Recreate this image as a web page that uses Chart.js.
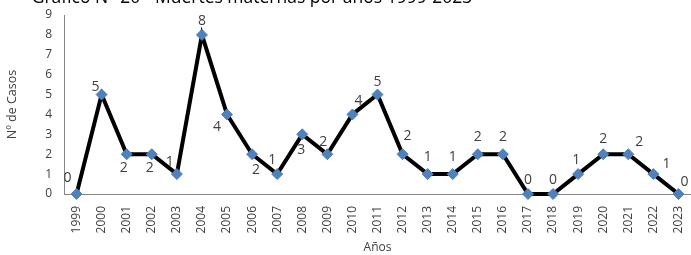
<!DOCTYPE html>
<html>
<head>
<meta charset="utf-8">
<script src="https://cdn.jsdelivr.net/npm/chart.js@4/dist/chart.umd.min.js"></script>
<style>
  html, body { margin: 0; padding: 0; background: #fff; }
  #wrap { width: 691px; height: 255px; }
</style>
</head>
<body>
<div id="wrap"><canvas id="deathsChart" width="691" height="255"></canvas></div>
<script>
// data
const years = ['1999', '2000', '2001', '2002', '2003', '2004', '2005', '2006', '2007', '2008',
    '2009', '2010', '2011', '2012', '2013', '2014', '2015', '2016', '2017', '2018',
    '2019', '2020', '2021', '2022', '2023'];
const deaths = [0, 5, 2, 2, 1, 8, 4, 2, 1, 3, 2, 4, 5, 2, 1, 1, 2, 2, 0, 0, 1, 2, 2, 1, 0];
const chartTitle = 'Gráfico N° 20 - Muertes maternas por años 1999-2023';
const yTitle = 'Nº de Casos';
const xTitle = 'Años';

// where each value label sits relative to its marker (dx, dy)
const labelOffsets = [
    [-9, -16], [-6, -8], [-3, 14], [-2, 14], [-7, -12], [0, -14], [-10, 13], [4, 16],
    [-5, -14], [-1, 16], [-4, -12], [6, -13], [0, -13], [5, -18], [0, -17], [0, -17],
    [0, -17], [0, -17], [0, -14], [0, -14], [-2, -14], [0, -15], [11, -12], [13, -10], [6, -12]
];

const fontFam = '"Open Sans", "Noto Sans", sans-serif';
const textColor = '#404040';

const extraText = {
    id: 'extraText',
    afterDatasetsDraw(chart) {
        const ctx = chart.ctx;
        const meta = chart.getDatasetMeta(0);
        ctx.save();
        ctx.fillStyle = textColor;
        ctx.font = '14px ' + fontFam;
        ctx.textAlign = 'center';
        ctx.textBaseline = 'middle';
        meta.data.forEach((pt, i) => {
            const off = labelOffsets[i] || [0, -14];
            ctx.fillText(String(deaths[i]), pt.x + off[0], pt.y + off[1]);
        });
        // chart title, cut off at the top like the original
        ctx.fillStyle = '#000';
        ctx.font = '17.5px ' + fontFam;
        ctx.textBaseline = 'alphabetic';
        ctx.fillText(chartTitle, 252, 3);
        ctx.restore();
    }
};

const ctxLine = document.getElementById('deathsChart').getContext('2d');
const deathsChart = new Chart(ctxLine, {
    type: 'line',
    data: {
        labels: years,
        datasets: [{
            label: 'Muertes maternas',
            data: deaths,
            borderColor: '#000000',
            borderWidth: 4,
            tension: 0,
            pointStyle: 'rectRot',
            pointRadius: 5.5,
            pointHoverRadius: 5.5,
            pointBackgroundColor: '#4F81BD',
            pointBorderColor: '#4F81BD',
            pointBorderWidth: 1,
            clip: false
        }]
    },
    options: {
        responsive: false,
        animation: false,
        layout: {
            autoPadding: false,
            padding: { top: 15, right: -4, left: 0, bottom: 0 }
        },
        plugins: {
            legend: { display: false },
            tooltip: { enabled: false },
            title: { display: false }
        },
        scales: {
            x: {
                offset: true,
                grid: { display: false, drawTicks: false },
                border: { display: true, color: '#868686', width: 1 },
                ticks: {
                    minRotation: 90,
                    maxRotation: 90,
                    autoSkip: false,
                    padding: 12,
                    color: textColor,
                    font: { family: fontFam, size: 12 }
                },
                title: {
                    display: true,
                    text: xTitle,
                    color: textColor,
                    font: { family: fontFam, size: 12 },
                    padding: { top: 0, bottom: 0 }
                },
                afterFit(scale) {
                    scale.height = 61;
                    scale.paddingLeft = 0;
                    scale.paddingRight = 0;
                }
            },
            y: {
                min: 0,
                max: 9,
                grid: { display: false, drawTicks: false },
                border: { display: true, color: '#868686', width: 1 },
                ticks: {
                    stepSize: 1,
                    padding: 12,
                    color: textColor,
                    font: { family: fontFam, size: 12 }
                },
                title: {
                    display: true,
                    text: yTitle,
                    color: textColor,
                    font: { family: fontFam, size: 12.5 },
                    padding: { top: 5, bottom: 0 }
                },
                afterFit(scale) {
                    scale.width = 64;
                    scale.paddingTop = 0;
                    scale.paddingBottom = 0;
                }
            }
        }
    },
    plugins: [extraText]
});
</script>
</body>
</html>
